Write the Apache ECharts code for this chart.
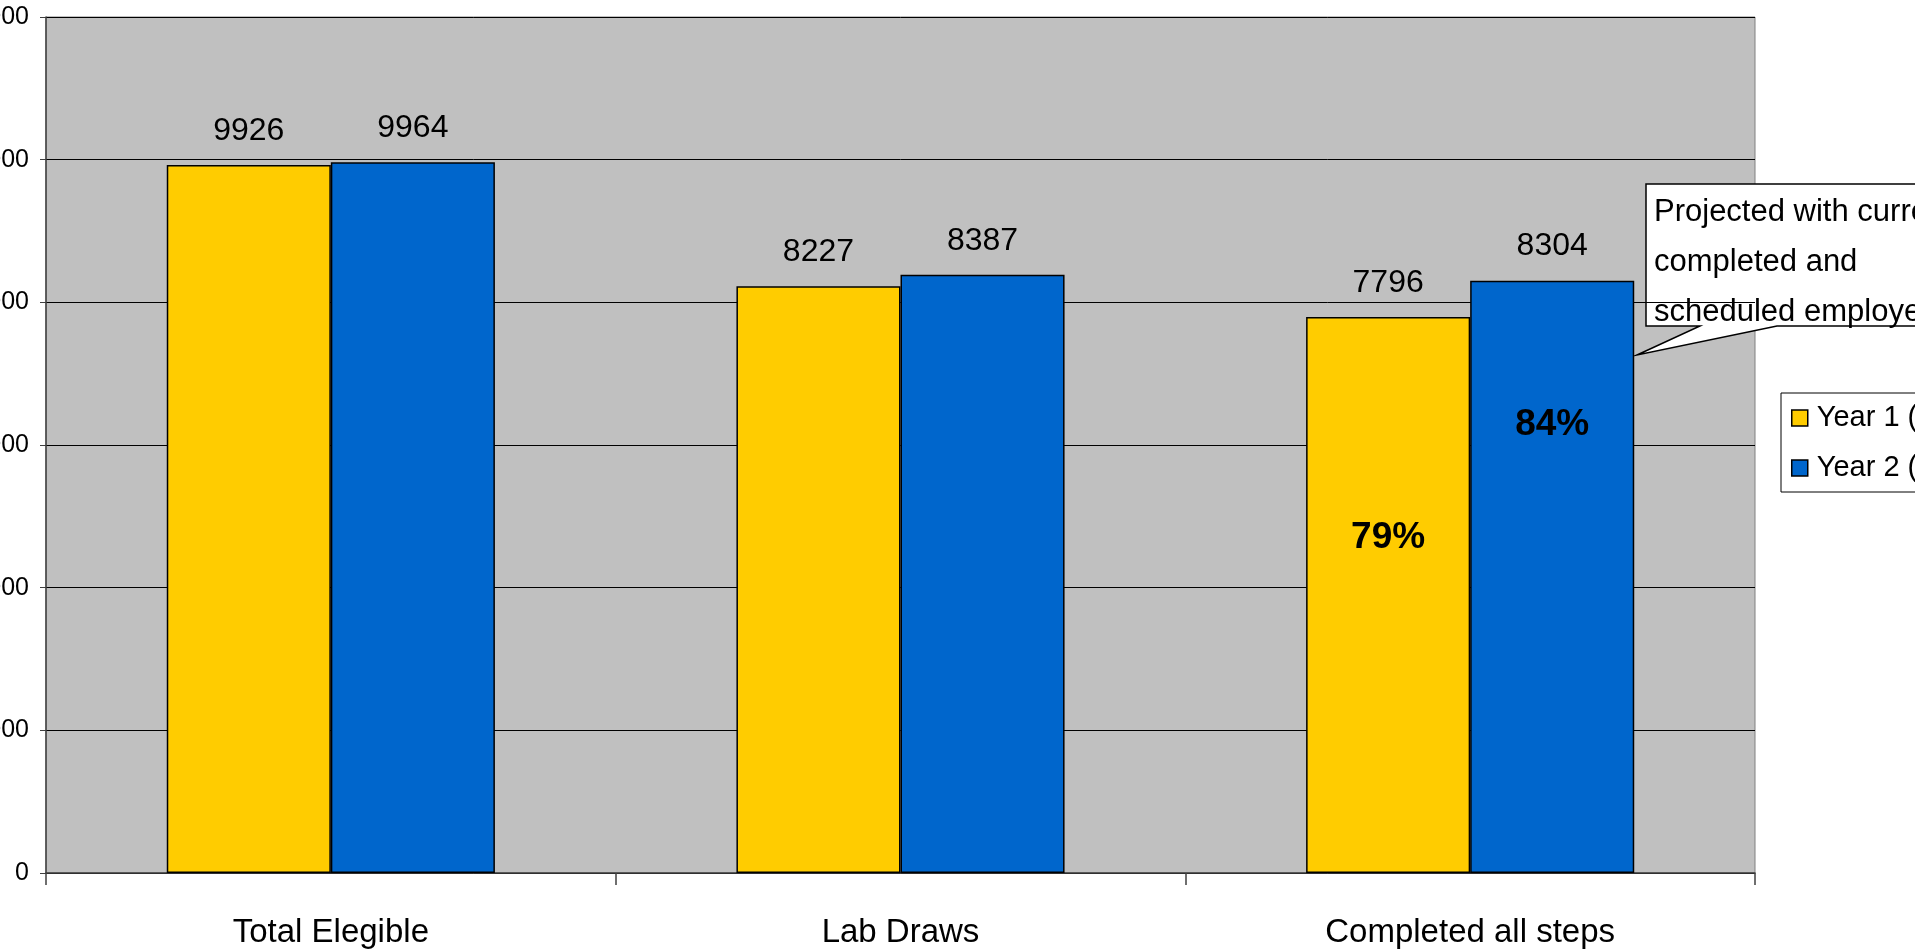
<!DOCTYPE html>
<html>
<head>
<meta charset="utf-8">
<title>Screening participation</title>
<script src="https://cdn.jsdelivr.net/npm/echarts@6/dist/echarts.min.js"></script>
<style>
  html, body { margin: 0; padding: 0; background: #ffffff; }
  #chart { width: 1915px; height: 951px; }
</style>
</head>
<body>
<div id="chart"></div>
<script>
// Program steps and counts per year
const categories = ['Total Elegible', 'Lab Draws', 'Completed all steps'];
const seriesNames = ['Year 1 (2007)', 'Year 2 (2008)'];
const year1 = [9926, 8227, 7796];
const year2 = [9964, 8387, 8304];
// Completion rates shown inside the last pair of bars
const completionRates = ['79%', '84%'];
const calloutLines = ['Projected with current', 'completed and', 'scheduled employees'];
const yTicks = [0, 2000, 4000, 6000, 8000, 10000, 12000];

const FONT = "'Liberation Sans', Arial, sans-serif";
const colors = ['#FFCC00', '#0066CC'];

function barSeries(name, values, color, rate, rateY) {
  return {
    name: name,
    type: 'bar',
    data: values,
    barGap: '0%',
    barCategoryGap: '42.4%',
    itemStyle: { color: color, borderColor: '#000000', borderWidth: 1.5 },
    label: {
      show: true,
      position: 'top',
      distance: 18,
      color: '#000000',
      fontFamily: FONT,
      fontSize: 32,
      lineHeight: 32
    },
    markPoint: {
      symbol: 'rect',
      symbolSize: 0,
      silent: true,
      label: {
        show: true,
        position: 'inside',
        formatter: '{b}',
        color: '#000000',
        fontFamily: FONT,
        fontWeight: 'bold',
        fontSize: 37
      },
      data: [{ name: rate, coord: [categories.length - 1, rateY] }]
    }
  };
}

const chart = echarts.init(document.getElementById('chart'), null, { renderer: 'canvas' });

chart.setOption({
  animation: false,
  backgroundColor: '#ffffff',
  color: colors,
  grid: {
    left: 46, right: 160, top: 17, bottom: 78,
    show: true,
    backgroundColor: '#C0C0C0',
    borderColor: '#808080',
    borderWidth: 1,
    containLabel: false,
    outerBoundsMode: 'none'
  },
  legend: {
    orient: 'vertical',
    left: 1781,
    top: 393,
    padding: [8, 10, 7, 10],
    borderColor: '#000000',
    borderWidth: 1,
    backgroundColor: '#ffffff',
    icon: 'rect',
    itemWidth: 16,
    itemHeight: 16,
    itemGap: 16,
    itemStyle: { borderColor: '#000000', borderWidth: 1.5 },
    textStyle: {
      fontFamily: FONT,
      fontSize: 29,
      lineHeight: 34,
      color: '#000000',
      padding: [0, 0, 0, 4]
    },
    data: seriesNames
  },
  xAxis: {
    type: 'category',
    data: categories,
    boundaryGap: true,
    axisLine: { show: true, lineStyle: { color: '#404040', width: 1.5 } },
    axisTick: { show: true, length: 12, inside: false, lineStyle: { color: '#404040', width: 1.5 } },
    axisLabel: {
      margin: 43,
      color: '#000000',
      fontFamily: FONT,
      fontSize: 33,
      lineHeight: 34
    },
    splitLine: { show: false }
  },
  yAxis: {
    type: 'value',
    min: yTicks[0],
    max: yTicks[yTicks.length - 1],
    interval: yTicks[1] - yTicks[0],
    axisLine: { show: true, lineStyle: { color: '#404040', width: 1.5 } },
    axisTick: { show: true, length: 6, lineStyle: { color: '#404040', width: 1 } },
    axisLabel: {
      margin: 17,
      color: '#000000',
      fontFamily: FONT,
      fontSize: 25,
      formatter: function (v) { return String(v); }
    },
    splitLine: { show: true, lineStyle: { color: '#000000', width: 1 } }
  },
  series: [
    barSeries(seriesNames[0], year1, colors[0], completionRates[0], 4700),
    barSeries(seriesNames[1], year2, colors[1], completionRates[1], 6280)
  ],
  graphic: [
    {
      type: 'group',
      silent: true,
      children: [
        {
          type: 'polygon',
          shape: {
            points: [[1646, 184], [1930, 184], [1930, 326], [1777, 326], [1637, 355], [1700, 326], [1646, 326]]
          },
          style: { fill: '#ffffff', stroke: '#000000', lineWidth: 1.5 }
        },
        {
          type: 'text',
          x: 1654,
          y: 187,
          style: {
            text: calloutLines.join('\n'),
            font: '31px ' + FONT,
            lineHeight: 50,
            fill: '#000000',
            verticalAlign: 'top',
            align: 'left'
          }
        }
      ]
    }
  ]
});
</script>
</body>
</html>
